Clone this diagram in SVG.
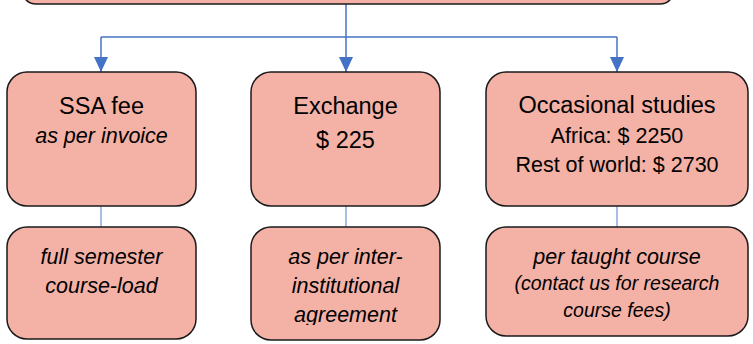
<svg xmlns="http://www.w3.org/2000/svg" width="753" height="344" viewBox="0 0 753 344">
<style>
.box{fill:#F4B1A6;stroke:#1a1a1a;stroke-width:1.5}
.t{font-family:"Liberation Sans",Arial,sans-serif;fill:#000;text-anchor:middle}
.h{font-size:23.5px}
.s{font-size:21.5px}
.i{font-style:italic;font-size:21.5px}
.si{font-style:italic;font-size:19.5px}
.c{stroke:#4472C4;stroke-width:1.5;fill:none}
.cl{stroke:#6F93D6;stroke-width:1.2;fill:none}
</style>
<defs>
<marker id="arr" markerWidth="15" markerHeight="14" refX="15" refY="7" orient="auto" markerUnits="userSpaceOnUse" viewBox="0 0 15 14">
<path d="M0,0 L15,7 L0,14 Z" fill="#4472C4"/>
</marker>
<clipPath id="clipMid"><rect x="250" y="227" width="191" height="98"/></clipPath>
</defs>
<g id="connectors">
<path class="c" d="M346,4 V37"/>
<path class="c" d="M101,37 H617"/>
<path class="c" d="M101,37 V72" marker-end="url(#arr)"/>
<path class="c" d="M346,37 V72" marker-end="url(#arr)"/>
<path class="c" d="M617,37 V72" marker-end="url(#arr)"/>
<path class="cl" d="M101,206 V227"/>
<path class="cl" d="M346,206 V227"/>
<path class="cl" d="M617,206 V227"/>
</g>
<g id="top"><rect class="box" x="22" y="-40" width="652" height="44" rx="14"/></g>
<g id="ssa">
<rect class="box" x="7" y="72" width="189" height="134" rx="20"/>
<text class="t h" x="101.5" y="114">SSA fee</text>
<text class="t i" x="101.5" y="143">as per invoice</text>
</g>
<g id="exchange">
<rect class="box" x="251" y="72" width="189" height="134" rx="20"/>
<text class="t h" x="345.5" y="114">Exchange</text>
<text class="t h" x="345.5" y="148">$ 225</text>
</g>
<g id="occasional">
<rect class="box" x="486" y="72" width="262" height="134" rx="20"/>
<text class="t h" x="617" y="113">Occasional studies</text>
<text class="t s" x="617" y="143">Africa: $ 2250</text>
<text class="t s" x="617" y="172">Rest of world: $ 2730</text>
</g>
<g id="ssa-note">
<rect class="box" x="7" y="227" width="189" height="112" rx="20"/>
<text class="t i" x="101.5" y="264">full semester</text>
<text class="t i" x="101.5" y="293">course-load</text>
</g>
<g id="exchange-note">
<rect class="box" x="251" y="227" width="189" height="113" rx="20"/>
<g clip-path="url(#clipMid)">
<text class="t i" x="345.5" y="264">as per inter-</text>
<text class="t i" x="345.5" y="293">institutional</text>
<text class="t i" x="345.5" y="322">agreement</text>
</g>
</g>
<g id="occasional-note">
<rect class="box" x="486" y="227" width="262" height="109" rx="20"/>
<text class="t i" x="617" y="264">per taught course</text>
<text class="t si" x="617" y="290">(contact us for research</text>
<text class="t si" x="617" y="317">course fees)</text>
</g>
</svg>
